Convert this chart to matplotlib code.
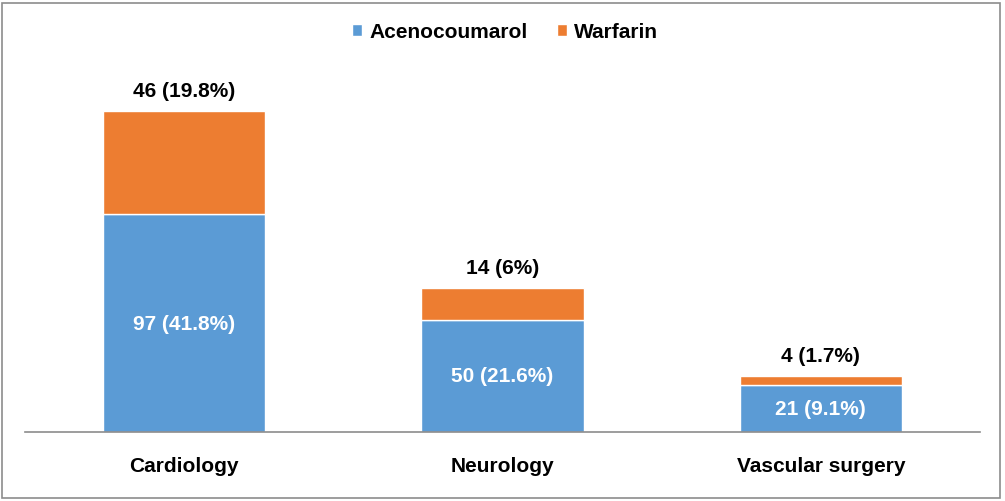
import matplotlib
matplotlib.use("Agg")
import matplotlib.pyplot as plt
from matplotlib.patches import Rectangle

categories = ["Cardiology", "Neurology", "Vascular surgery"]
acenocoumarol = [97, 50, 21]
warfarin = [46, 14, 4]
aceno_labels = ["97 (41.8%)", "50 (21.6%)", "21 (9.1%)"]
warf_labels = ["46 (19.8%)", "14 (6%)", "4 (1.7%)"]

BLUE = "#5B9BD5"
ORANGE = "#ED7D31"
FONT = ["Liberation Sans", "DejaVu Sans"]

W, H = 1005, 502
fig = plt.figure(figsize=(W / 100, H / 100), dpi=100)
fig.patches.append(Rectangle((2 / W, 3 / H), 998 / W, 495 / H, transform=fig.transFigure,
                             fill=False, edgecolor="#8C8C8C", linewidth=1.2))

ax = fig.add_axes([25 / W, (H - 433) / H, 955 / W, (433 - 60) / H])
x = list(range(len(categories)))
b1 = ax.bar(x, acenocoumarol, width=0.51, color=BLUE, edgecolor="white", linewidth=1.0, zorder=2)
b2 = ax.bar(x, warfarin, width=0.51, bottom=acenocoumarol, color=ORANGE, edgecolor="white",
            linewidth=1.0, zorder=2)

ax.bar_label(b1, labels=aceno_labels, label_type="center", color="white",
             fontsize=15, fontweight="bold", family=FONT)
ax.bar_label(b2, labels=warf_labels, padding=8, color="black",
             fontsize=15, fontweight="bold", family=FONT)

ax.set_xlim(-0.5, 2.5)
ax.set_ylim(0, 166)
for s in ["top", "right", "left"]:
    ax.spines[s].set_visible(False)
ax.spines["bottom"].set_color("#8C8C8C")
ax.spines["bottom"].set_linewidth(1.2)
ax.set_yticks([])
ax.set_xticks(x)
ax.set_xticklabels(categories, fontsize=15, fontweight="bold", family=FONT)
ax.tick_params(axis="x", length=0, pad=17)

leg = fig.legend([b1, b2], ["Acenocoumarol", "Warfarin"], loc="center",
                 bbox_to_anchor=(505 / W, 1 - 33 / H), ncol=2, frameon=False,
                 prop={"family": FONT, "size": 15, "weight": "bold"},
                 handlelength=0.5, handleheight=0.5, handletextpad=0.35, columnspacing=1.4)

fig.savefig("out.png", dpi=100)
